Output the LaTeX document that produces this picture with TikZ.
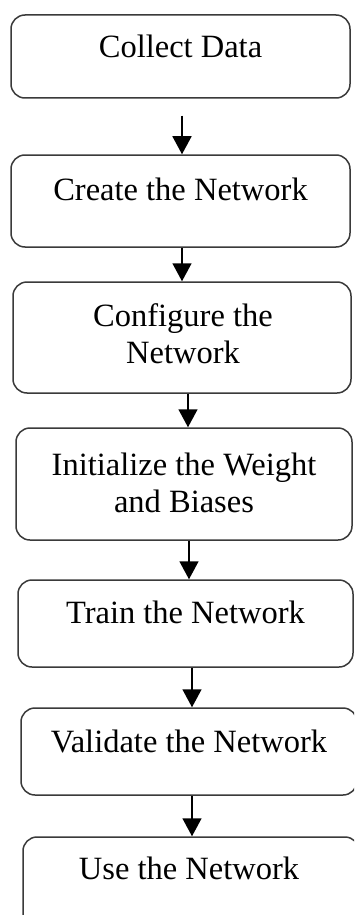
\documentclass[tikz,border=0pt]{standalone}
\usepackage{fontspec}
\setmainfont{Liberation Serif}
\usetikzlibrary{arrows.meta}
\definecolor{boxline}{HTML}{3A3A3A}
\tikzset{
  stepbox/.style={draw=boxline, line width=1.5pt, rounded corners=14pt, inner sep=0pt, fill=white},
  txt/.style={inner sep=0pt, align=center, font=\fontsize{32.5}{37}\selectfont, text=black},
  arr/.style={draw=black, line width=1.6pt, -{Triangle[width=19pt,length=18pt]}}
}
\begin{document}
\begin{tikzpicture}[x=1pt,y=-1pt]
\useasboundingbox (0,0) rectangle (354,915);
\fill[white] (0,0) rectangle (354,915);
\clip (0,0) rectangle (354,915);
% boxes
\node[stepbox, minimum width=339pt, minimum height=83pt] (b1) at (180.5,56.5) {};
\node[stepbox, minimum width=339pt, minimum height=92pt] (b2) at (180.5,201) {};
\node[stepbox, minimum width=338pt, minimum height=111pt] (b3) at (182,337.5) {};
\node[stepbox, minimum width=336pt, minimum height=112pt] (b4) at (184,484) {};
\node[stepbox, minimum width=335pt, minimum height=87pt] (b5) at (185.5,623.5) {};
\node[stepbox, minimum width=336pt, minimum height=87pt] (b6) at (189,751.5) {};
\node[stepbox, minimum width=336pt, minimum height=110pt] (b7) at (191,892) {};
% texts
\node[txt, anchor=base] (t1) at (180.5,58) {Collect Data};
\node[txt, anchor=base] (t2) at (180.5,200) {Create the Network};
\node[txt, anchor=base] (t3) at (183,363) {Configure the\\Network};
\node[txt, anchor=base] (t4) at (184,512) {Initialize the Weight\\and Biases};
\node[txt, anchor=base] (t5) at (185.5,623) {Train the Network};
\node[txt, anchor=base] (t6) at (189,752) {Validate the Network};
\node[txt, anchor=base] (t7) at (189,879) {Use the Network};
% arrows
\draw[arr, shorten <=17pt] ([xshift=1.5pt]b1.south) -- ([xshift=1.5pt]b1.south |- b2.north);
\draw[arr] ([xshift=1.5pt]b2.south) -- ([xshift=1.5pt]b2.south |- b3.north);
\draw[arr] ([xshift=6pt]b3.south) -- ([xshift=6pt]b3.south |- b4.north);
\draw[arr] ([xshift=5pt]b4.south) -- ([xshift=5pt]b4.south |- b5.north);
\draw[arr] ([xshift=6.5pt]b5.south) -- ([xshift=6.5pt]b5.south |- b6.north);
\draw[arr] ([xshift=3pt]b6.south) -- ([xshift=3pt]b6.south |- b7.north);
\end{tikzpicture}
\end{document}
